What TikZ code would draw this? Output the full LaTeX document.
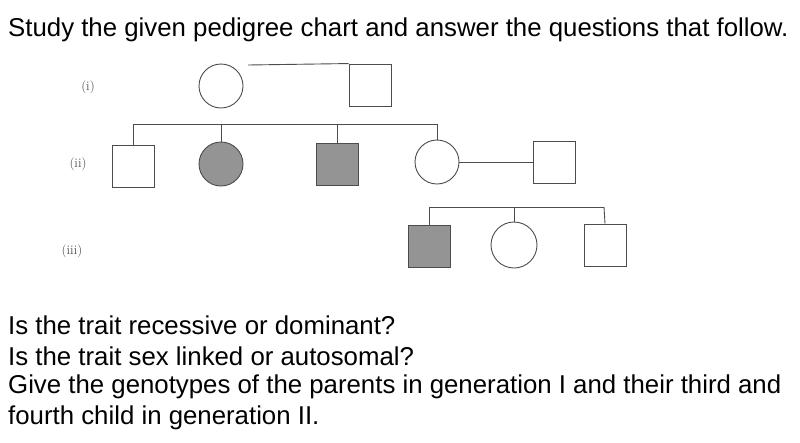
\documentclass[tikz,border=0pt]{standalone}
\usepackage{fontspec}
\setmainfont{Liberation Sans}
\newfontfamily\lbl{Latin Modern Roman}
\begin{document}
\begin{tikzpicture}[x=1pt,y=-1pt,
  ln/.style={draw=black!70,line width=0.9pt},
  fem/.style={circle,ln,minimum size=44pt,inner sep=0pt,fill=white},
  mal/.style={rectangle,ln,minimum size=42pt,inner sep=0pt,fill=white},
  aff/.style={fill=black!42},
  gl/.style={font=\lbl\fontsize{13}{15}\selectfont,text=black!70},
  qt/.style={font=\fontsize{25.8}{30}\selectfont,anchor=west,inner sep=0pt}]
\useasboundingbox (0,0) rectangle (800,442);
\node[qt] (title) at (8,30) {Study the given pedigree chart and answer the questions that follow.};
\node[gl] (g1) at (88,87) {(i)};
\node[gl] (g2) at (78,164) {(ii)};
\node[gl] (g3) at (72,251) {(iii)};
% gen I
\node[fem] (m1) at (221,86) {};
\node[mal] (f1) at (370,85) {};
\coordinate (c1) at (248,65);
\draw[ln] (c1) -- (f1.north west);
% sibship II
\coordinate (s1) at (133,124); \coordinate (s4) at (437,124);
\coordinate (s2) at (221,124); \coordinate (s3) at (337,124);
\draw[ln] (s1) -- (s4);
\node[mal] (a) at (133,166) {};
\node[fem,aff] (b) at (221,164) {};
\node[mal,aff] (c) at (337,164) {};
\node[fem] (d) at (437,162) {};
\node[mal] (e) at (554,162) {};
\draw[ln] (s1) -- (a.north);
\draw[ln] (s2) -- (b.north);
\draw[ln] (s3) -- (c.north);
\draw[ln] (s4) -- (d.north);
\draw[ln] (d.east) -- (e.west);
% sibship III
\coordinate (t1) at (429,207); \coordinate (t2) at (514,207); \coordinate (t3) at (604,207);
\draw[ln] (t1) -- (t3);
\node[mal,aff] (p) at (429,246) {};
\node[fem,minimum size=46pt] (q) at (514,245) {};
\node[mal] (r) at (605,245) {};
\draw[ln] (t1) -- (p.north);
\draw[ln] (t2) -- (q.north);
\draw[ln] (t3) -- (r.north);
% questions
\node[qt] (q1) at (8,325) {Is the trait recessive or dominant?};
\node[qt] (q2) at (8,356) {Is the trait sex linked or autosomal?};
\node[qt] (q3) at (8,387) {Give the genotypes of the parents in generation I and their third and};
\node[qt] (q4) at (8,418) {fourth child in generation II.};
\end{tikzpicture}
\end{document}
